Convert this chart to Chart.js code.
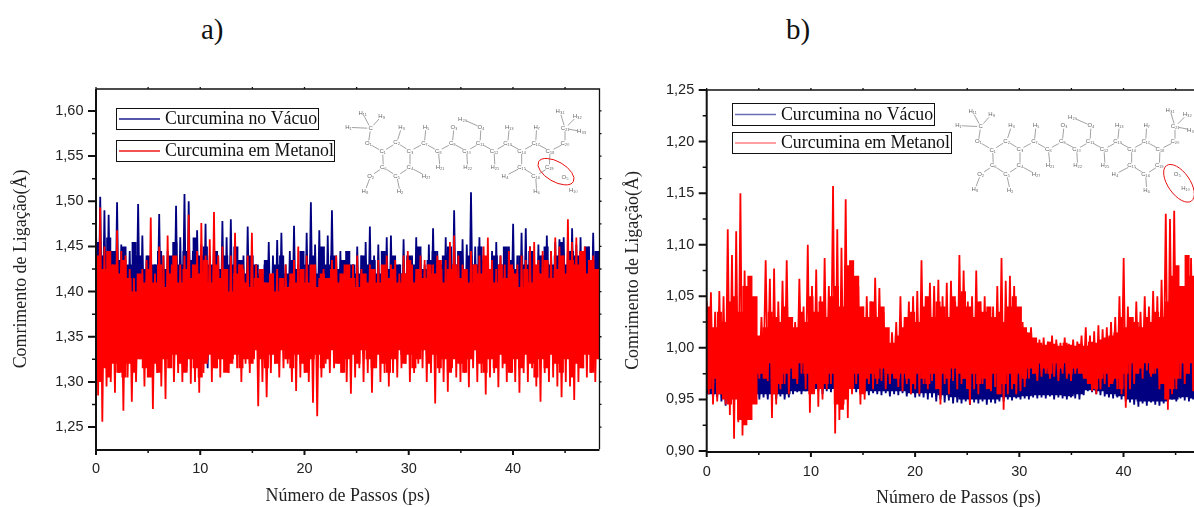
<!DOCTYPE html>
<html lang="pt">
<head>
<meta charset="utf-8">
<title>Comprimento de ligação</title>
<script src="https://cdn.jsdelivr.net/npm/chart.js@4"></script>
<style>
    html, body { margin: 0; padding: 0; background: #fff; overflow: hidden; width: 1194px; height: 507px; }
    canvas { position: absolute; top: 0; }
    #graficoA { left: 0; }
    #graficoB { left: 620px; }
    .painel { position: absolute; top: 13px; font: 29px "Liberation Serif", serif; color: #111; }
</style>
</head>
<body>
<div class="painel" style="left:201px">a)</div>
<div class="painel" style="left:786px">b)</div>
<canvas id="graficoA" width="620" height="507"></canvas>
<canvas id="graficoB" width="620" height="507"></canvas>
<script>
const nomeVacuo = "Curcumina no Vácuo";
const nomeMetanol = "Curcumina em Metanol";
const tituloX = "Número de Passos (ps)";
const tituloY = "Comrimento de Ligação(Å)";

const xTicks = [0, 10, 20, 30, 40];
const xMinor = [5, 15, 25, 35, 45];
const yTicksA = [1.25, 1.30, 1.35, 1.40, 1.45, 1.50, 1.55, 1.60];
const yMinorA = [1.275, 1.325, 1.375, 1.425, 1.475, 1.525, 1.575];
const yTicksB = [0.90, 0.95, 1.00, 1.05, 1.10, 1.15, 1.20, 1.25];
const yMinorB = [0.925, 0.975, 1.025, 1.075, 1.125, 1.175, 1.225];

// Painel a) - picos e vales
const vacuoTopoA = [
    1.47,1.505,1.49,1.485,1.445,1.499,1.452,1.425,1.445,1.43,
    1.497,1.462,1.44,1.435,1.43,1.486,1.44,1.445,1.425,1.495,
    1.46,1.508,1.50,1.445,1.468,1.452,1.475,1.44,1.458,1.44,
    1.478,1.46,1.48,1.445,1.435,1.44,1.472,1.44,1.43,1.425,
    1.43,1.455,1.44,1.457,1.465,1.43,1.445,1.473,1.43,1.445,
    1.465,1.499,1.452,1.468,1.44,1.462,1.49,1.44,1.445,1.435,
    1.44,1.43,1.45,1.44,1.455,1.472,1.44,1.452,1.425,1.46,
    1.462,1.435,1.43,1.458,1.42,1.44,1.46,1.44,1.43,1.452,
    1.47,1.445,1.43,1.46,1.448,1.49,1.44,1.458,1.452,1.51,
    1.45,1.46,1.44,1.43,1.445,1.455,1.44,1.43,1.45,1.475,
    1.44,1.465,1.47,1.45,1.43,1.452,1.44,1.462,1.445,1.455,
    1.458,1.46,1.448,1.47,1.452,1.46,1.44,1.45,1.465,1.445
];
const vacuoBaseA = [
    1.33,1.335,1.33,1.34,1.335,1.33,1.34,1.335,1.33,1.34,
    1.335,1.34,1.33,1.335,1.34,1.33,1.335,1.34,1.33,1.335,
    1.34,1.317,1.335,1.34,1.33,1.335,1.315,1.34,1.335,1.33,
    1.34,1.335,1.33,1.34,1.335,1.33,1.34,1.335,1.33,1.34,
    1.335,1.34,1.33,1.335,1.34,1.33,1.335,1.34,1.33,1.335,
    1.34,1.33,1.335,1.34,1.33,1.335,1.34,1.33,1.335,1.34,
    1.33,1.335,1.34,1.33,1.335,1.34,1.33,1.335,1.34,1.33,
    1.335,1.34,1.33,1.335,1.34,1.33,1.335,1.34,1.33,1.335,
    1.34,1.33,1.335,1.34,1.33,1.335,1.34,1.33,1.335,1.34,
    1.33,1.335,1.34,1.33,1.335,1.34,1.33,1.335,1.34,1.33,
    1.335,1.34,1.33,1.335,1.34,1.33,1.335,1.34,1.33,1.335,
    1.34,1.33,1.335,1.34,1.33,1.335,1.34,1.33,1.335,1.34
];
const metanolTopoA = [
    1.455,1.493,1.45,1.445,1.43,1.468,1.445,1.44,1.425,1.415,
    1.40,1.425,1.435,1.482,1.42,1.45,1.44,1.462,1.43,1.41,
    1.43,1.44,1.485,1.43,1.445,1.476,1.44,1.458,1.488,1.44,
    1.45,1.42,1.44,1.465,1.43,1.425,1.44,1.465,1.43,1.42,
    1.41,1.405,1.42,1.425,1.415,1.43,1.41,1.435,1.45,1.425,
    1.44,1.42,1.43,1.415,1.425,1.41,1.435,1.44,1.42,1.43,
    1.415,1.43,1.44,1.425,1.42,1.43,1.41,1.435,1.425,1.44,
    1.43,1.435,1.42,1.44,1.445,1.43,1.425,1.44,1.435,1.43,
    1.43,1.44,1.425,1.435,1.455,1.462,1.44,1.43,1.425,1.445,
    1.43,1.44,1.45,1.46,1.435,1.425,1.44,1.43,1.445,1.425,
    1.43,1.44,1.435,1.45,1.455,1.435,1.445,1.43,1.445,1.46,
    1.45,1.44,1.48,1.455,1.46,1.44,1.45,1.435,1.44,1.425
];
const metanolBaseA = [
    1.285,1.256,1.295,1.30,1.288,1.31,1.268,1.305,1.278,1.30,
    1.325,1.295,1.32,1.27,1.31,1.295,1.281,1.32,1.30,1.31,
    1.30,1.312,1.298,1.30,1.288,1.31,1.325,1.30,1.315,1.305,
    1.32,1.31,1.325,1.315,1.30,1.32,1.31,1.325,1.273,1.30,
    1.283,1.31,1.32,1.305,1.315,1.32,1.30,1.29,1.305,1.31,
    1.30,1.277,1.262,1.305,1.32,1.31,1.315,1.32,1.31,1.30,
    1.287,1.305,1.315,1.30,1.31,1.288,1.315,1.30,1.31,1.295,
    1.31,1.305,1.315,1.32,1.30,1.31,1.32,1.315,1.30,1.31,
    1.276,1.31,1.30,1.289,1.315,1.305,1.30,1.31,1.294,1.315,
    1.30,1.31,1.286,1.305,1.31,1.294,1.315,1.30,1.31,1.30,
    1.288,1.31,1.30,1.315,1.295,1.278,1.31,1.30,1.305,1.295,
    1.283,1.30,1.295,1.28,1.30,1.315,1.305,1.31,1.30,1.325
];
// Contorno irregular da massa solida de cada traco
const vacuoMioloTopoA = [
    1.455,1.44,1.46,1.445,1.435,1.45,1.43,1.455,1.44,1.425,
    1.44,1.43,1.445,1.425,1.44,1.455,1.43,1.445,1.435,1.46,
    1.44,1.45,1.43,1.445,1.425,1.44,1.43,1.45,1.435,1.42,
    1.44,1.43,1.42,1.435,1.415,1.43,1.44,1.42,1.435,1.425,
    1.445,1.43,1.44,1.42,1.45,1.43,1.44,1.425,1.435,1.445,
    1.43,1.42,1.44,1.43,1.435,1.42,1.445,1.425,1.44,1.43,
    1.42,1.44,1.43,1.45,1.425,1.435,1.445,1.43,1.44,1.45,
    1.43,1.445,1.42,1.44,1.43,1.45,1.435,1.425,1.44,1.43,
    1.45,1.435,1.425,1.44,1.43,1.445,1.42,1.44,1.45,1.43,
    1.44,1.455,1.43,1.445,1.44,1.425,1.45,1.435,1.445,1.43
];
const vacuoMioloBaseA = [1.345,1.345,1.35,1.345,1.35,1.345,1.345,1.35,1.345,1.35,1.345,1.35,1.345,1.345,1.35,1.345,1.35,1.345,1.35,1.345,1.345,1.35,1.345,1.35,1.345];
const metanolMioloTopoA = [
    1.44,1.425,1.445,1.43,1.42,1.435,1.415,1.40,1.42,1.41,
    1.425,1.41,1.43,1.405,1.42,1.44,1.41,1.425,1.415,1.43,
    1.42,1.435,1.41,1.43,1.415,1.425,1.40,1.42,1.43,1.41,
    1.405,1.415,1.425,1.41,1.42,1.40,1.415,1.405,1.42,1.41,
    1.425,1.41,1.43,1.405,1.42,1.415,1.425,1.41,1.42,1.43,
    1.415,1.405,1.42,1.41,1.425,1.41,1.43,1.415,1.425,1.41,
    1.42,1.435,1.41,1.425,1.415,1.43,1.42,1.435,1.41,1.425,
    1.43,1.415,1.425,1.41,1.43,1.42,1.44,1.425,1.41,1.43,
    1.415,1.43,1.42,1.405,1.425,1.41,1.43,1.42,1.435,1.415,
    1.425,1.44,1.42,1.435,1.43,1.445,1.42,1.435,1.425,1.41
];
const metanolMioloBaseA = [
    1.30,1.315,1.305,1.32,1.31,1.305,1.32,1.31,1.325,1.315,
    1.305,1.32,1.31,1.325,1.315,1.33,1.32,1.31,1.325,1.315,
    1.305,1.32,1.33,1.315,1.325,1.31,1.32,1.33,1.315,1.325,
    1.32,1.335,1.325,1.315,1.33,1.32,1.335,1.325,1.315,1.33,
    1.32,1.31,1.325,1.33,1.315,1.325,1.335,1.32,1.31,1.325,
    1.33,1.32,1.335,1.325,1.315,1.33,1.32,1.31,1.325,1.335,
    1.32,1.33,1.315,1.325,1.335,1.32,1.33,1.315,1.325,1.31,
    1.325,1.32,1.31,1.325,1.335,1.32,1.31,1.325,1.315,1.33,
    1.32,1.31,1.325,1.315,1.33,1.32,1.305,1.325,1.315,1.33,
    1.32,1.31,1.325,1.305,1.32,1.315,1.33,1.31,1.325,1.32
];

// Painel b)
const vacuoTopoB = [
    0.99,1.00,0.985,0.995,0.98,0.99,0.985,0.995,0.98,0.99,
    0.985,0.98,0.99,0.985,0.98,0.99,0.995,0.985,0.99,0.98,
    0.99,0.985,0.995,0.98,0.99,0.985,0.995,0.99,0.98,0.985,
    0.99,0.995,0.985,0.99,0.98,0.995,0.99,0.985,0.98,0.99,
    0.985,0.99,0.995,0.98,0.985,0.99,0.995,0.985,0.98,0.99,
    0.985,0.98,0.99,0.995,0.985,0.98,0.99,0.985,0.995,0.98,
    0.99,0.985,0.98,0.99,0.995,0.985,0.99,0.98,0.985,0.99,
    0.995,0.98,0.985,0.99,0.985,0.98,0.99,0.995,0.98,0.985,
    0.99,0.985,0.98,0.99,0.985,0.995,0.98,0.99,0.985,0.98,
    0.99,0.985,0.995,0.98,0.99,0.985,0.98,0.99,0.995,0.985,
    0.98,0.99,0.985,0.995,0.98,0.99,0.985,0.98,0.99,0.995,
    0.985,0.99,0.98,0.985,0.995,0.99,0.98,0.985,0.99,0.98
];
const vacuoBaseB = [
    0.955,0.95,0.952,0.948,0.944,0.95,0.95,0.948,0.95,0.95,
    0.95,0.948,0.95,0.952,0.95,0.952,0.95,0.953,0.95,0.952,
    0.955,0.957,0.955,0.958,0.956,0.957,0.958,0.955,0.958,0.957,
    0.958,0.957,0.958,0.956,0.958,0.957,0.955,0.956,0.954,0.956,
    0.955,0.954,0.956,0.953,0.955,0.954,0.956,0.953,0.955,0.952,
    0.953,0.952,0.95,0.952,0.948,0.95,0.947,0.949,0.946,0.947,
    0.946,0.948,0.945,0.947,0.946,0.948,0.945,0.947,0.946,0.948,
    0.948,0.95,0.949,0.951,0.95,0.951,0.95,0.952,0.951,0.952,
    0.951,0.953,0.95,0.952,0.951,0.95,0.952,0.951,0.95,0.954,
    0.958,0.957,0.955,0.954,0.953,0.952,0.951,0.952,0.95,0.948,
    0.947,0.945,0.943,0.946,0.944,0.947,0.945,0.944,0.946,0.948,
    0.95,0.948,0.951,0.949,0.948,0.95,0.948,0.949,0.948,0.95
];
const metanolTopoB = [
    1.045,1.054,1.035,1.055,1.05,1.115,1.09,1.113,1.15,1.075,
    1.05,1.03,1.01,1.03,1.085,1.067,1.077,1.045,1.065,1.085,
    1.03,1.025,1.067,1.04,1.10,1.06,1.076,1.05,1.087,1.06,
    1.157,1.115,1.097,1.144,1.075,1.045,1.06,1.04,1.05,1.045,
    1.068,1.058,1.035,1.008,1.015,1.025,1.05,1.03,1.045,1.05,
    1.055,1.085,1.05,1.063,1.06,1.066,1.05,1.063,1.065,1.045,
    1.09,1.075,1.045,1.05,1.075,1.045,1.05,1.035,1.04,1.06,
    1.087,1.065,1.07,1.06,1.03,1.025,1.015,1.02,1.005,1.008,
    1.01,1.006,1.012,1.008,1.005,1.01,1.004,1.008,1.006,1.012,
    1.02,1.012,1.016,1.022,1.018,1.02,1.025,1.03,1.05,1.087,
    1.04,1.03,1.045,1.035,1.05,1.04,1.055,1.05,1.066,1.13,
    1.125,1.133,1.06,1.05,1.06,1.087,1.07,1.08,1.07,1.06
];
const metanolBaseB = [
    0.955,0.945,0.948,0.955,0.945,0.935,0.912,0.928,0.915,0.945,
    0.95,0.972,0.97,0.975,0.968,0.932,0.945,0.96,0.965,0.955,
    0.97,0.965,0.975,0.96,0.937,0.955,0.943,0.95,0.96,0.965,
    0.917,0.93,0.945,0.932,0.955,0.965,0.945,0.95,0.965,0.96,
    0.965,0.968,0.96,0.965,0.97,0.962,0.958,0.965,0.955,0.96,
    0.955,0.965,0.96,0.968,0.96,0.945,0.965,0.955,0.968,0.96,
    0.965,0.97,0.945,0.96,0.955,0.965,0.96,0.958,0.962,0.955,
    0.94,0.955,0.96,0.955,0.958,0.962,0.97,0.975,0.968,0.972,
    0.975,0.97,0.972,0.968,0.975,0.97,0.968,0.975,0.978,0.972,
    0.965,0.958,0.955,0.96,0.965,0.962,0.968,0.96,0.955,0.942,
    0.96,0.965,0.975,0.97,0.978,0.972,0.975,0.96,0.97,0.94,
    0.955,0.96,0.97,0.965,0.975,0.958,0.97,0.955,0.965,0.96
];
const vacuoMioloTopoB = [0.99,0.985,0.99,0.985,0.99,0.985,0.99,0.985,0.99,0.985,0.99,0.985,0.99];
const vacuoMioloBaseB = [
    0.955,0.955,0.955,0.955,0.955,0.955,0.955,0.955,0.958,0.958,0.96,0.96,0.96,0.96,0.96,0.958,0.958,
    0.958,0.958,0.956,0.956,0.956,0.954,0.952,0.95,0.95,0.95,0.95,0.952,0.952,0.953,0.954,0.954,
    0.954,0.953,0.955,0.959,0.958,0.955,0.953,0.95,0.948,0.948,0.948,0.95,0.952,0.951,0.951,0.951
];
const metanolMioloTopoB = [
    1.04,1.02,1.035,1.025,1.045,1.05,1.035,1.06,1.07,1.05,
    1.012,1.02,1.035,1.03,1.025,1.04,1.03,1.02,1.035,1.025,
    1.05,1.035,1.045,1.03,1.05,1.06,1.04,1.08,1.085,1.07,
    1.04,1.03,1.045,1.03,1.04,1.02,1.005,1.012,1.02,1.03,
    1.035,1.025,1.04,1.05,1.03,1.045,1.04,1.03,1.05,1.04,
    1.055,1.04,1.03,1.045,1.035,1.04,1.03,1.035,1.025,1.04,
    1.05,1.04,1.02,1.015,1.01,1.005,1.003,1.006,1.004,1.002,
    1.005,1.003,1.002,1.004,1.002,1.006,1.005,1.008,1.01,1.012,
    1.015,1.03,1.02,1.03,1.025,1.02,1.03,1.025,1.035,1.03,
    1.045,1.07,1.08,1.06,1.09,1.07,1.05,1.06,1.05,1.045
];
const metanolMioloBaseB = [
    0.96,0.97,0.955,0.95,0.945,0.95,0.93,0.925,0.93,0.945,
    0.975,0.97,0.985,0.955,0.965,0.975,0.98,0.97,0.985,0.975,
    0.955,0.965,0.96,0.965,0.975,0.945,0.94,0.95,0.96,0.975,
    0.955,0.97,0.975,0.97,0.98,0.975,0.975,0.97,0.975,0.97,
    0.965,0.975,0.97,0.965,0.975,0.96,0.975,0.97,0.98,0.975,
    0.97,0.96,0.975,0.965,0.97,0.96,0.975,0.955,0.965,0.975,
    0.965,0.975,0.97,0.98,0.975,0.985,0.98,0.975,0.985,0.98,
    0.985,0.975,0.98,0.975,0.97,0.965,0.96,0.97,0.975,0.965,
    0.97,0.96,0.975,0.985,0.975,0.98,0.985,0.975,0.98,0.965,
    0.95,0.96,0.97,0.985,0.975,0.985,0.975,0.98,0.97,0.975
];

const xMax = 48.3;
const azul = "#000080";
const vermelho = "#ff0000";

// Junta topo e base num unico traco oscilante
function montarTraco(topos, bases) {
    const passo = xMax / (topos.length - 0.5);
    const pontos = [];
    topos.forEach((v, i) => {
        pontos.push({ x: i * passo, y: v });
        pontos.push({ x: (i + 0.5) * passo, y: bases[i] });
    });
    return pontos;
}

function montarMiolo(valores) {
    const passo = xMax / (valores.length - 1);
    return valores.map((v, i) => ({ x: i * passo, y: v }));
}

// Tres datasets por curva: borda superior do miolo, borda inferior e o traco
function datasetsCurva(nome, cor, ordem, topos, bases, mioloTopo, mioloBase) {
    return [
        { data: montarMiolo(mioloTopo), borderWidth: 0, borderColor: cor, backgroundColor: cor, fill: "+1", stepped: true, order: ordem },
        { data: montarMiolo(mioloBase), borderWidth: 0, borderColor: cor, stepped: true, order: ordem },
        { label: nome, data: montarTraco(topos, bases), borderColor: cor, order: ordem }
    ];
}

// Estrutura da molecula (ligacoes e atomos), desenhada como figura decorativa
const atomos = [
    ["H₁₁",98,70],["H₉",155,78],["H₁",55,112],["C",122,115],["O₁",115,160],["C₁",158,185],["C₂",200,158],["C₃",240,183],
    ["C₄",240,232],["C₅",200,258],["C₆",160,232],["O₂",122,258],["H₈",105,303],["H₂",210,305],["H₂₇",288,258],["H₃",215,112],
    ["C₇",283,160],["H₅",288,112],["C₈",325,183],["H₂₁",330,232],["C₉",367,160],["O₃",372,112],["C₁₀",410,183],["H₂₂",413,232],
    ["C₁₁",450,160],["O₄",453,112],["H₂₀",398,88],["C₁₂",492,183],["H₂₅",495,232],["C₁₃",533,160],["H₁₃",538,112],["C₁₄",575,183],
    ["C₁₅",575,232],["H₄",525,258],["C₁₆",617,258],["H₆",620,305],["C₁₇",617,160],["H₇",620,112],["C₁₈",660,183],["C₁₉",658,232],
    ["C₂₀",705,160],["C₂₁",705,115],["H₃₁",690,65],["H₃₂",742,78],["H₃₃",755,125]
];
const ligacoes = [
    [0,3],[1,3],[2,3],[3,4],[4,5],[5,6],[6,7],[7,8],[8,9],[9,10],[10,5],[10,11],[11,12],[9,13],[8,14],[6,15],[7,16],[16,17],
    [16,18],[18,19],[18,20],[20,21],[20,22],[22,23],[22,24],[24,25],[25,26],[24,27],[27,28],[27,29],[29,30],[29,31],[31,32],
    [32,33],[32,34],[34,35],[31,36],[36,37],[36,38],[38,39],[39,34],[38,40],[40,41],[41,42],[41,43],[41,44]
];

const pluginMolecula = {
    id: "molecula",
    afterDraw(chart, args, opts) {
        const ctx = chart.ctx;
        const X = v => opts.ox + v / 3;
        const Y = v => opts.oy + v / 3;
        ctx.save();
        ctx.strokeStyle = "#8a8a8a";
        ctx.lineWidth = 0.8;
        ligacoes.forEach(l => {
            const a = atomos[l[0]], b = atomos[l[1]];
            ctx.beginPath();
            ctx.moveTo(X(a[1]), Y(a[2]));
            ctx.lineTo(X(b[1]), Y(b[2]));
            ctx.stroke();
        });
        ctx.font = '6px "Liberation Sans"';
        ctx.textAlign = "center";
        ctx.textBaseline = "middle";
        atomos.forEach(a => {
            ctx.fillStyle = "#fff";
            ctx.fillRect(X(a[1]) - 3.5, Y(a[2]) - 3, 7, 6);
            ctx.fillStyle = "#666";
            ctx.fillText(a[0], X(a[1]), Y(a[2]));
        });
        // metoxila marcada em vermelho
        opts.extras.forEach(a => {
            ctx.fillStyle = "#666";
            ctx.fillText(a[0], X(a[1]), Y(a[2]));
        });
        ctx.strokeStyle = "#e81010";
        ctx.lineWidth = 1;
        ctx.beginPath();
        ctx.ellipse(X(opts.elipse[0]), Y(opts.elipse[1]), opts.elipse[2] / 3, opts.elipse[3] / 3, opts.elipse[4] * Math.PI / 180, 0, Math.PI * 2);
        ctx.stroke();
        ctx.restore();
    }
};

// Moldura, marcas de escala e caixas de legenda no estilo do Origin
const pluginMoldura = {
    id: "moldura",
    afterDraw(chart, args, opts) {
        const ctx = chart.ctx, a = chart.chartArea;
        const sx = chart.scales.x, sy = chart.scales.y;
        ctx.save();
        ctx.strokeStyle = "#111";
        ctx.lineWidth = 1.3;
        ctx.beginPath();
        ctx.moveTo(a.left, a.top); ctx.lineTo(a.right, a.top); ctx.lineTo(a.right, a.bottom);
        opts.yMaiores.concat(opts.yMenores).forEach(v => {
            ctx.moveTo(a.right, sy.getPixelForValue(v)); ctx.lineTo(a.right + 2, sy.getPixelForValue(v));
        });
        xTicks.concat(xMinor).forEach(v => {
            ctx.moveTo(sx.getPixelForValue(v), a.top); ctx.lineTo(sx.getPixelForValue(v), a.top - 2);
        });
        ctx.stroke();

        ctx.lineWidth = 2;
        ctx.beginPath();
        ctx.moveTo(a.left, a.top); ctx.lineTo(a.left, a.bottom + 1); ctx.lineTo(a.right, a.bottom + 1);
        opts.yMaiores.forEach(v => { ctx.moveTo(a.left, sy.getPixelForValue(v)); ctx.lineTo(a.left - 8, sy.getPixelForValue(v)); });
        xTicks.forEach(v => { ctx.moveTo(sx.getPixelForValue(v), a.bottom); ctx.lineTo(sx.getPixelForValue(v), a.bottom + 6); });
        ctx.stroke();
        ctx.lineWidth = 1.5;
        ctx.beginPath();
        opts.yMenores.forEach(v => { ctx.moveTo(a.left, sy.getPixelForValue(v)); ctx.lineTo(a.left - 4, sy.getPixelForValue(v)); });
        xMinor.forEach(v => { ctx.moveTo(sx.getPixelForValue(v), a.bottom); ctx.lineTo(sx.getPixelForValue(v), a.bottom + 4); });
        ctx.stroke();

        chart.data.datasets.filter(ds => ds.label).forEach((ds, i) => {
            const c = opts.caixas[i];
            ctx.fillStyle = "#fff";
            ctx.fillRect(c[0], c[1], c[2], c[3]);
            ctx.strokeStyle = "#111";
            ctx.lineWidth = 1;
            ctx.strokeRect(c[0] + 0.5, c[1] + 0.5, c[2], c[3]);
            ctx.strokeStyle = opts.coresLegenda[i];
            ctx.lineWidth = opts.larguraLegenda;
            ctx.beginPath();
            ctx.moveTo(c[0] + 3, c[1] + c[3] / 2 + 0.5);
            ctx.lineTo(c[0] + 44, c[1] + c[3] / 2 + 0.5);
            ctx.stroke();
            ctx.fillStyle = "#111";
            ctx.font = '17.8px "Liberation Serif"';
            ctx.textAlign = "left";
            ctx.textBaseline = "middle";
            ctx.fillText(ds.label, c[0] + 49, c[1] + c[3] / 2 + 1);
        });
        ctx.restore();
    }
};

function criarGrafico(id, config) {
    const ctx = document.getElementById(id)?.getContext("2d");
    if (!ctx) {
        console.error("Elemento #" + id + " nao encontrado.");
        return;
    }
    const marcas = valores => scale => { scale.ticks = valores.map(v => ({ value: v })); };
    new Chart(ctx, {
        type: "line",
        data: {
            datasets: [
                ...datasetsCurva(nomeVacuo, azul, 2, config.vacuoTopo, config.vacuoBase, config.vacuoMioloTopo, config.vacuoMioloBase),
                ...datasetsCurva(nomeMetanol, vermelho, 1, config.metanolTopo, config.metanolBase, config.metanolMioloTopo, config.metanolMioloBase)
            ]
        },
        options: {
            responsive: false,
            animation: false,
            events: [],
            layout: { padding: { top: config.topo, right: config.direita, left: 0, bottom: 0 } },
            elements: {
                point: { radius: 0 },
                line: { borderWidth: 1.8, tension: 0, borderJoinStyle: "bevel" }
            },
            plugins: {
                legend: { display: false },
                tooltip: { enabled: false },
                molecula: config.molecula,
                moldura: {
                    yMaiores: config.yTicks, yMenores: config.yMinor, caixas: config.caixas,
                    coresLegenda: config.coresLegenda, larguraLegenda: config.larguraLegenda
                }
            },
            scales: {
                x: {
                    type: "linear", min: 0, max: xMax,
                    grid: { display: false }, border: { display: false },
                    afterBuildTicks: marcas(xTicks),
                    afterFit: s => { s.height = config.baixo; },
                    ticks: { autoSkip: false, maxRotation: 0, padding: config.folgaX, color: "#222", font: { family: "Liberation Sans", size: 14.5 } },
                    title: { display: true, text: tituloX, color: "#222", padding: { top: 0, bottom: config.folgaTituloX }, font: { family: "Liberation Serif", size: 17.9 } }
                },
                y: {
                    min: config.yMin, max: config.yMax,
                    grid: { display: false }, border: { display: false },
                    afterBuildTicks: marcas(config.yTicks),
                    afterFit: s => { s.width = config.esquerda; },
                    ticks: {
                        autoSkip: false, padding: 4.5, color: "#222", font: { family: "Liberation Sans", size: 14.5 },
                        callback: v => v.toFixed(2).replace(".", ",")
                    },
                    title: { display: true, text: tituloY, color: "#222", padding: { top: config.folgaTituloY, bottom: 0 }, font: { family: "Liberation Serif", size: 17.9 } }
                }
            }
        },
        plugins: [pluginMoldura, pluginMolecula]
    });
}

criarGrafico("graficoA", {
    vacuoTopo: vacuoTopoA, vacuoBase: vacuoBaseA, metanolTopo: metanolTopoA, metanolBase: metanolBaseA,
    vacuoMioloTopo: vacuoMioloTopoA, vacuoMioloBase: vacuoMioloBaseA, metanolMioloTopo: metanolMioloTopoA, metanolMioloBase: metanolMioloBaseA,
    yMin: 1.2257, yMax: 1.6243, yTicks: yTicksA, yMinor: yMinorA,
    topo: 89, baixo: 58, esquerda: 96, direita: 20.5, folgaX: 3, folgaTituloX: 0, folgaTituloY: 11,
    caixas: [[116, 108, 202, 21], [116, 140, 218, 21]],
    coresLegenda: ["#1c1c8c", "#f01818"], larguraLegenda: 1.3,
    molecula: { ox: 330, oy: 90, elipse: [678, 245, 60, 30, 30], extras: [["O₅",705,262],["H₁₀",730,300]] }
});

criarGrafico("graficoB", {
    vacuoTopo: vacuoTopoB, vacuoBase: vacuoBaseB, metanolTopo: metanolTopoB, metanolBase: metanolBaseB,
    vacuoMioloTopo: vacuoMioloTopoB, vacuoMioloBase: vacuoMioloBaseB, metanolMioloTopo: metanolMioloTopoB, metanolMioloBase: metanolMioloBaseB,
    yMin: 0.90, yMax: 1.25, yTicks: yTicksB, yMinor: yMinorB,
    topo: 90, baixo: 56, esquerda: 86.7, direita: 30, folgaX: 4, folgaTituloX: -2, folgaTituloY: 3,
    caixas: [[112, 103, 202, 22], [112, 132, 219, 21]],
    coresLegenda: ["#6c6cb8", "#ff8080"], larguraLegenda: 1.6,
    molecula: { ox: 320, oy: 88.3, elipse: [717, 285, 65, 33, 55], extras: [["O₅",712,258],["H₁₀",737,300]] }
});
</script>
</body>
</html>
